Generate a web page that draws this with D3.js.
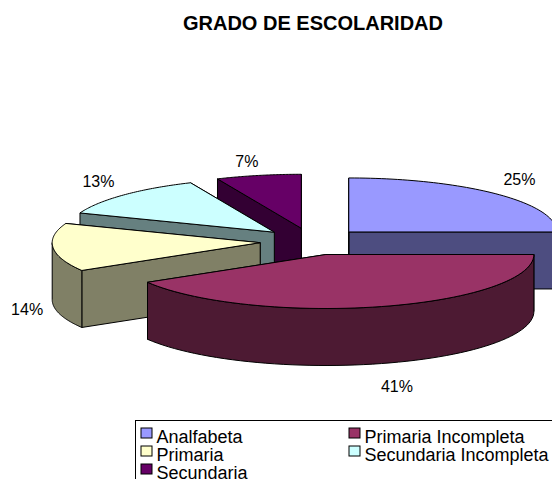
<!DOCTYPE html>
<html>
<head>
<meta charset="utf-8">
<script src="https://cdn.jsdelivr.net/npm/d3@7"></script>
<style>
  html, body { margin: 0; padding: 0; background: #fff; }
  svg { display: block; }
  text { font-family: "Liberation Sans", Arial, sans-serif; fill: #000; }
</style>
</head>
<body>
<svg id="chart" width="552" height="479"></svg>
<script>
'use strict';

var title = 'GRADO DE ESCOLARIDAD';
var categories = ['Analfabeta', 'Primaria Incompleta', 'Primaria', 'Secundaria Incompleta', 'Secundaria'];
var percents = [25, 41.4, 14.4, 12.6, 6.6];
var topColors = ['#9999ff', '#993366', '#ffffcc', '#ccffff', '#660066'];
var sideColors = ['#4d4d80', '#4d1a33', '#808066', '#668080', '#330033'];

var cx = 312,
    cy = 241.5,
    rx = 208,
    ry = 54,
    depth = 57,
    explode = 52;

// hand nudges for the percent labels, the automatic spot is a few px off
var labelNudgeX = [1, 7, 6, -2, -5];
var labelNudgeY = [-2, 3, 2, -2, 3];

var svg = d3.select('#chart');
var line = d3.line();

// clockwise angle from 12 o'clock, squashed into the tilted plane
function onEllipse(center, a, y0, radX, radY) {
  return [center[0] + (radX || rx) * Math.sin(a),
          center[1] - (radY || ry) * Math.cos(a) + (y0 || 0)];
}

function arcPoints(center, a0, a1, y0) {
  var t = d3.scaleLinear().domain([0, 60]).range([a0, a1]);
  return d3.range(61).map(function(i) { return onEllipse(center, t(i), y0); });
}

var slices = d3.pie().sort(null)(percents).map(function(d) {
  var mid = (d.startAngle + d.endAngle) / 2;
  d.mid = mid;
  d.center = [cx + explode * Math.sin(mid),
              cy - explode * (ry / rx) * Math.cos(mid)];
  return d;
});

var gPie = svg.append('g').attr('stroke', '#000').attr('stroke-width', 1).attr('stroke-linejoin', 'round');

// painter's order, far slices first
slices.slice().sort(function(a, b) { return a.center[1] - b.center[1]; }).forEach(function(d) {
  var g = gPie.append('g');
  var side = sideColors[d.index];
  var c = d.center;

  // radial cut faces, the one turned away first
  [d.endAngle, d.startAngle].forEach(function(a) {
    var p = onEllipse(c, a);
    g.append('path')
      .attr('fill', side)
      .attr('d', line([c, p, [p[0], p[1] + depth], [c[0], c[1] + depth]]) + 'Z');
  });

  // outer wall, only the part on the near half
  var w0 = Math.max(d.startAngle, Math.PI / 2),
      w1 = Math.min(d.endAngle, Math.PI * 1.5);
  if (w1 > w0) {
    var upper = arcPoints(c, w0, w1, 0),
        lower = arcPoints(c, w1, w0, depth);
    g.append('path')
      .attr('fill', side)
      .attr('d', line(upper.concat(lower)) + 'Z');
  }

  g.append('path')
    .attr('fill', topColors[d.index])
    .attr('d', line([c].concat(arcPoints(c, d.startAngle, d.endAngle, 0))) + 'Z');
});

// percent labels
svg.append('g').selectAll('text')
  .data(slices)
  .enter().append('text')
    .attr('text-anchor', 'middle')
    .attr('font-size', 16)
    .attr('x', function(d, i) { return onEllipse(d.center, d.mid, 0, rx + 32, ry + 19)[0] + labelNudgeX[i]; })
    .attr('y', function(d, i) {
      var front = Math.cos(d.mid) < 0 ? depth : 0;
      return onEllipse(d.center, d.mid, front, rx + 32, ry + 19)[1] + 7 + labelNudgeY[i];
    })
    .text(function(d) { return Math.round(d.value) + '%'; });

svg.append('text')
  .attr('x', 313)
  .attr('y', 30)
  .attr('text-anchor', 'middle')
  .attr('font-size', 20)
  .attr('font-weight', 'bold')
  .text(title);

// legend, runs off the right and bottom of the picture like the original
var legend = svg.append('g').attr('transform', 'translate(135.5,420.5)');

legend.append('rect')
  .attr('width', 440)
  .attr('height', 80)
  .attr('fill', '#fff')
  .attr('stroke', '#000');

var colX = d3.scaleOrdinal().domain([0, 1]).range([5.5, 213.5]);
var rowY = d3.scaleLinear().domain([0, 1]).range([7.5, 25.5]);

var items = legend.selectAll('g')
  .data(categories)
  .enter().append('g')
    .attr('transform', function(d, i) {
      return 'translate(' + colX(i % 2) + ',' + rowY(Math.floor(i / 2)) + ')';
    });

items.append('rect')
  .attr('width', 11)
  .attr('height', 10)
  .attr('fill', function(d, i) { return topColors[i]; })
  .attr('stroke', '#000');

items.append('text')
  .attr('x', 15.5)
  .attr('y', 14.5)
  .attr('font-size', 18)
  .text(function(d) { return d; });
</script>
</body>
</html>
